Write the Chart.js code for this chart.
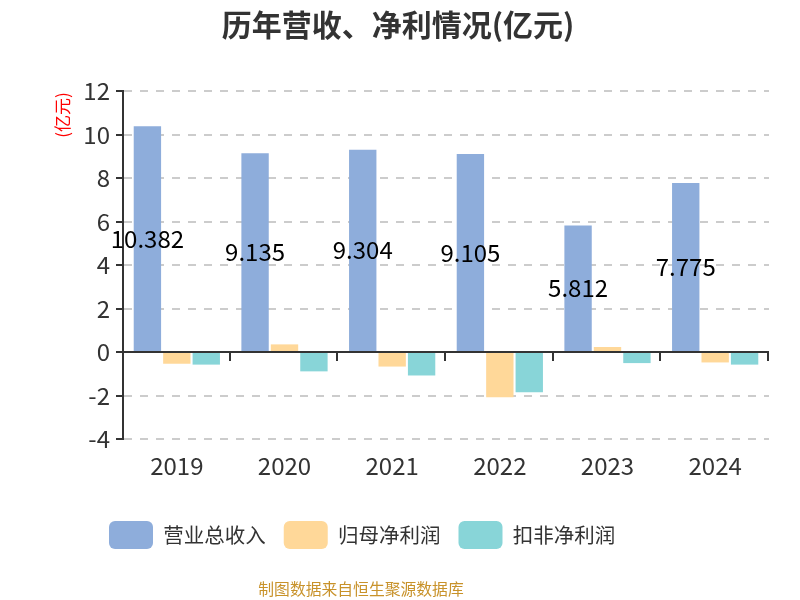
<!DOCTYPE html>
<html>
<head>
<meta charset="utf-8">
<script src="https://cdn.jsdelivr.net/npm/chart.js@4/dist/chart.umd.min.js"></script>
<style>
html,body{margin:0;padding:0;background:#fff;}
#wrap{width:800px;height:600px;}
</style>
</head>
<body>
<div id="wrap"><canvas id="c" width="800" height="600"></canvas></div>
<script>
const years = ['2019','2020','2021','2022','2023','2024'];
const revenue = [10.382, 9.135, 9.304, 9.105, 5.812, 7.775];
const netProfit = [-0.54, 0.35, -0.67, -2.08, 0.23, -0.48];
const deductedProfit = [-0.58, -0.89, -1.08, -1.85, -0.51, -0.58];
const seriesNames = ['营业总收入', '归母净利润', '扣非净利润'];
const titleText = '历年营收、净利情况(亿元)';
const unitText = '(亿元)';
const footerText = '制图数据来自恒生聚源数据库';

const FONT = '"Noto Sans CJK SC", "Noto Sans", sans-serif';

const overlay = {
  id: 'overlay',
  afterLayout(chart) {
    // reference legend sits left of centre
    const lg = chart.legend;
    if (lg && lg.lineWidths) {
      const pad = lg.options.labels.padding;
      const start = (lg.left + pad + lg.right - lg.lineWidths[0]) / 2;
      const d = 109 - start;
      lg.left += d;
      lg.right += d;
    }
    // reference title is centred on the full canvas
    const tb = chart.titleBlock;
    if (tb) {
      const d2 = 398 - (tb.left + tb.right) / 2;
      tb.left += d2;
      tb.right += d2;
    }
  },
  afterDatasetsDraw(chart) {
    const ctx = chart.ctx;
    const area = chart.chartArea;
    const y = chart.scales.y;
    const y0 = y.getPixelForValue(0);
    ctx.save();
    // zero axis line
    ctx.strokeStyle = '#333';
    ctx.lineWidth = 2;
    ctx.beginPath();
    ctx.moveTo(area.left, y0);
    ctx.lineTo(area.right, y0);
    ctx.stroke();
    // ticks at category boundaries
    const n = years.length;
    const step = (area.right - area.left) / n;
    for (let i = 1; i <= n; i++) {
      const px = Math.round(area.left + step * i) - 1;
      ctx.beginPath();
      ctx.moveTo(px, y0);
      ctx.lineTo(px, y0 + 9);
      ctx.stroke();
    }
    // data labels for revenue
    const meta = chart.getDatasetMeta(0);
    ctx.fillStyle = '#000';
    ctx.font = '24px ' + FONT;
    ctx.textAlign = 'center';
    ctx.textBaseline = 'middle';
    meta.data.forEach((bar, i) => {
      const cy = (bar.y + bar.base) / 2;
      ctx.fillText(revenue[i].toFixed(3), bar.x, cy);
    });
    // unit label
    ctx.save();
    ctx.translate(63, 115);
    ctx.rotate(-Math.PI / 2);
    ctx.fillStyle = '#ff0000';
    ctx.font = '17px ' + FONT;
    ctx.fillText(unitText, 0, 0);
    ctx.restore();
    // footer
    ctx.fillStyle = '#c8922a';
    ctx.font = '15.8px ' + FONT;
    ctx.fillText(footerText, 361, 589);
    ctx.restore();
  }
};

new Chart(document.getElementById('c'), {
  type: 'bar',
  data: {
    labels: years,
    datasets: [
      { label: seriesNames[0], data: revenue, backgroundColor: '#8eaddb' },
      { label: seriesNames[1], data: netProfit, backgroundColor: '#ffd899' },
      { label: seriesNames[2], data: deductedProfit, backgroundColor: '#88d5d8' }
    ]
  },
  options: {
    responsive: false,
    animation: false,
    devicePixelRatio: 1,
    layout: { padding: { left: 0, right: 31, top: 0, bottom: 41 } },
    datasets: { bar: { barPercentage: 0.93, categoryPercentage: 0.82 } },
    scales: {
      x: {
        grid: { display: false, drawTicks: false },
        border: { display: false },
        ticks: { color: '#333', font: { size: 24, family: FONT }, padding: 12 },
        afterFit(s) { s.height = 64; }
      },
      y: {
        min: -4, max: 12,
        ticks: { stepSize: 2, color: '#333', font: { size: 24, family: FONT }, padding: 6 },
        grid: { color: '#cccccc', lineWidth: 2, tickColor: '#333', tickLength: 7, tickBorderDash: [], tickWidth: 2 },
        border: { color: '#333', width: 2, dash: [8, 8] },
        afterFit(s) { s.width = 123; }
      }
    },
    plugins: {
      title: {
        display: true, text: titleText, color: '#333',
        font: { size: 30, weight: 'bold', family: FONT },
        padding: { top: 7, bottom: 48 }
      },
      legend: {
        position: 'bottom',
        labels: {
          boxWidth: 44, boxHeight: 28, useBorderRadius: true, borderRadius: 6,
          color: '#333', font: { size: 20.5, family: FONT }, padding: 18
        }
      },
      tooltip: { enabled: false }
    }
  },
  plugins: [overlay]
});
</script>
</body>
</html>
